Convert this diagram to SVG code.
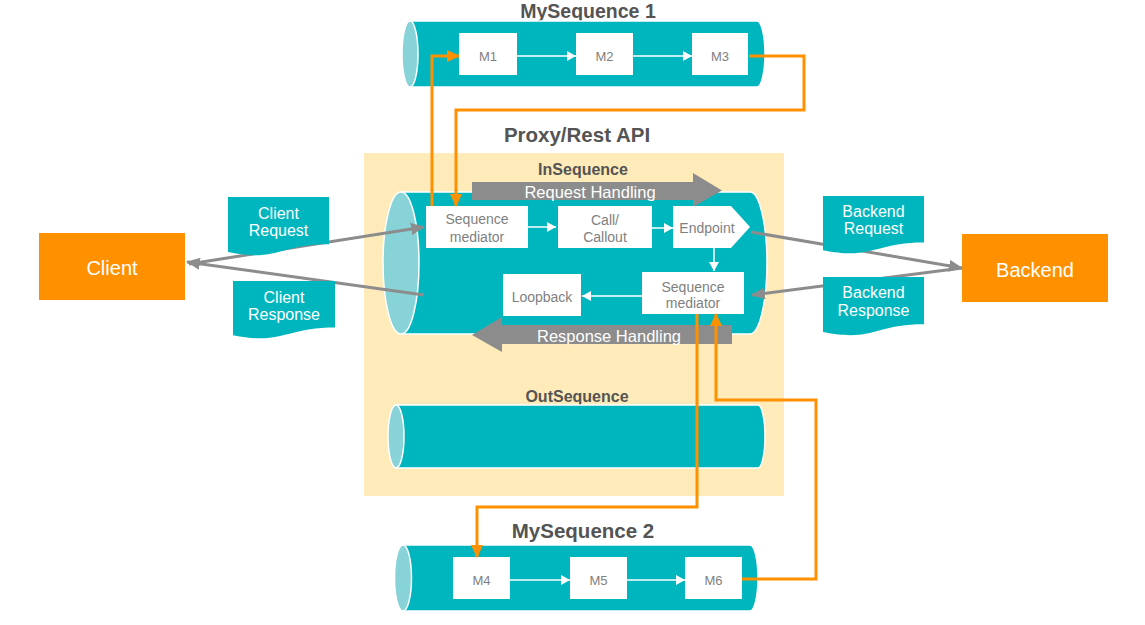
<svg xmlns="http://www.w3.org/2000/svg" width="1145" height="625" viewBox="0 0 1145 625">
<defs>
<style>
.title{font-family:"Liberation Sans",Arial,sans-serif;font-weight:bold;fill:#545454;text-anchor:middle}
.t19{font-size:20.5px}
.t16b{font-size:16px}
.cyl{fill:#00B6BE;stroke:#ffffff;stroke-width:1.5}
.cap{fill:#87D3D7;stroke:#ffffff;stroke-width:1.5}
.box{fill:#ffffff}
.btxt{font-family:"Liberation Sans",Arial,sans-serif;font-size:14px;fill:#7F7F7F;text-anchor:middle}
.mtxt{font-family:"Liberation Sans",Arial,sans-serif;font-size:13px;fill:#7F7F7F;text-anchor:middle}
.wtxt{font-family:"Liberation Sans",Arial,sans-serif;fill:#ffffff;text-anchor:middle}
.doc{fill:#00B6BE}
.ext{fill:#FF9100}
.band{fill:#8C8C8C}
.gray{fill:none;stroke:#8C8C8C;stroke-width:3;marker-end:url(#ag)}
.orange{fill:none;stroke:#FF9100;stroke-width:3;marker-end:url(#ao)}
.white{fill:none;stroke:#ffffff;stroke-width:1.5;marker-end:url(#aw)}
</style>
<marker id="ag" markerUnits="userSpaceOnUse" markerWidth="14" markerHeight="12" refX="13" refY="6" orient="auto">
<path d="M0,0 L14,6 L0,12 Z" fill="#8C8C8C"/>
</marker>
<marker id="ao" markerUnits="userSpaceOnUse" markerWidth="13" markerHeight="12" refX="12" refY="6" orient="auto">
<path d="M0,0 L13,6 L0,12 Z" fill="#FF9100"/>
</marker>
<marker id="aw" markerUnits="userSpaceOnUse" markerWidth="9" markerHeight="10" refX="9" refY="5" orient="auto">
<path d="M0,0 L9,5 L0,10 Z" fill="#ffffff"/>
</marker>
</defs>

<rect x="0" y="0" width="1145" height="625" fill="#ffffff"/>

<g id="proxy-api">
<rect x="364" y="153" width="420" height="343" fill="#FFEBB9"/>
<text class="title t19" x="577" y="141.5">Proxy/Rest API</text>
</g>

<g id="mysequence1">
<text class="title" font-size="19.5" x="588" y="18">MySequence 1</text>
<path class="cyl" d="M410,21 H757 A8,33 0 0 1 757,87 H410 Z"/>
<ellipse class="cap" cx="410" cy="54" rx="8" ry="33"/>
</g>
<g id="m1"><rect class="box" x="459" y="33" width="58" height="42"/><text class="mtxt" x="488" y="61">M1</text></g>
<g id="m2"><rect class="box" x="576" y="33" width="57" height="42"/><text class="mtxt" x="604.5" y="61">M2</text></g>
<g id="m3"><rect class="box" x="692" y="33" width="56" height="42"/><text class="mtxt" x="720" y="61">M3</text></g>

<g id="insequence">
<text class="title t16b" x="583" y="174.5">InSequence</text>
<path class="cyl" d="M401,192 H750 A17,71 0 0 1 750,334 H401 Z"/>
<ellipse class="cap" cx="401" cy="263" rx="18" ry="71"/>
</g>
<g id="request-handling">
<path class="band" d="M472,182 H693 V173 L722,190.5 L693,207 V200 H472 Z"/>
<text class="wtxt" font-size="16.5" x="590" y="198">Request Handling</text>
</g>
<g id="response-handling">
<path class="band" d="M732,325 H502 V317 L472,335 L502,352 V344 H732 Z"/>
<text class="wtxt" font-size="16.5" x="609" y="342">Response Handling</text>
</g>

<g id="seq-mediator-1"><rect class="box" x="426" y="206" width="102" height="42"/><text class="btxt" x="477" y="223.5">Sequence</text><text class="btxt" x="477" y="241.5">mediator</text></g>
<g id="call-callout"><rect class="box" x="558" y="206" width="94" height="42"/><text class="btxt" x="605" y="225">Call/</text><text class="btxt" x="605" y="241.5">Callout</text></g>
<g id="endpoint"><path class="box" d="M673,206 H731 L750,227 L731,248 H673 Z"/><text class="btxt" x="707" y="233">Endpoint</text></g>
<g id="seq-mediator-2"><rect class="box" x="642" y="272" width="102" height="42"/><text class="btxt" x="693" y="291.5">Sequence</text><text class="btxt" x="693" y="307.5">mediator</text></g>
<g id="loopback"><rect class="box" x="503" y="274" width="78" height="42"/><text class="btxt" x="542" y="301.5">Loopback</text></g>

<g id="outsequence">
<text class="title t16b" x="577" y="401.5">OutSequence</text>
<path class="cyl" d="M396,405 H758 A7,31.5 0 0 1 758,468 H396 Z"/>
<ellipse class="cap" cx="396" cy="436.5" rx="8" ry="31.5"/>
</g>

<g id="mysequence2">
<text class="title t19" x="583" y="538">MySequence 2</text>
<path class="cyl" d="M403,545 H750 A8,33 0 0 1 750,611 H403 Z"/>
<ellipse class="cap" cx="403" cy="578" rx="8.5" ry="33"/>
</g>
<g id="m4"><rect class="box" x="453" y="557" width="57" height="42"/><text class="mtxt" x="481.5" y="585">M4</text></g>
<g id="m5"><rect class="box" x="570" y="557" width="57" height="42"/><text class="mtxt" x="598.5" y="585">M5</text></g>
<g id="m6"><rect class="box" x="685" y="557" width="57" height="42"/><text class="mtxt" x="713.5" y="585">M6</text></g>

<g id="client"><rect class="ext" x="39" y="233" width="146" height="67"/><text class="wtxt" font-size="20" x="112" y="275">Client</text></g>
<g id="backend"><rect class="ext" x="962" y="234" width="146" height="68"/><text class="wtxt" font-size="20" x="1035" y="277">Backend</text></g>

<g id="connectors">
<path class="white" d="M517,56 H576"/>
<path class="white" d="M633,56 H692"/>
<path class="white" d="M528,227 H556"/>
<path class="white" d="M652,228 H673"/>
<path class="white" d="M714,248 V271"/>
<path class="white" d="M642,296 H582"/>
<path class="white" d="M510,580 H570"/>
<path class="white" d="M627,580 H685"/>
<path class="gray" d="M189,264 L424,227"/>
<path class="gray" d="M424,295 L187,262"/>
<path class="gray" d="M751,232 L962,268"/>
<path class="gray" d="M962,268 L752,295"/>
<path class="orange" d="M432,206 V56 H459"/>
<path class="orange" d="M749,56 H804 V110 H456 V206"/>
<path class="orange" d="M697,314 V507 H477 V557"/>
<path class="orange" d="M742,579 H816 V400 H716 V314"/>
</g>

<g id="client-request"><path class="doc" d="M228,197 H329 V244.3 C278.5,244.3 278.5,262.3 228,252.1 Z"/><text class="wtxt" font-size="16" x="278.5" y="218.5">Client</text><text class="wtxt" font-size="16" x="278.5" y="236">Request</text></g>
<g id="client-response"><path class="doc" d="M233,281 H335 V327.5 C284,327.5 284,345.2 233,335.2 Z"/><text class="wtxt" font-size="16" x="284" y="302.5">Client</text><text class="wtxt" font-size="16" x="284" y="320">Response</text></g>
<g id="backend-request"><path class="doc" d="M823,196 H924 V242.5 C873.5,242.5 873.5,260.2 823,250.2 Z"/><text class="wtxt" font-size="16" x="873.5" y="216.5">Backend</text><text class="wtxt" font-size="16" x="873.5" y="234">Request</text></g>
<g id="backend-response"><path class="doc" d="M823,277 H924 V324.3 C873.5,324.3 873.5,342.3 823,332.1 Z"/><text class="wtxt" font-size="16" x="873.5" y="297.5">Backend</text><text class="wtxt" font-size="16" x="873.5" y="316">Response</text></g>
</svg>
